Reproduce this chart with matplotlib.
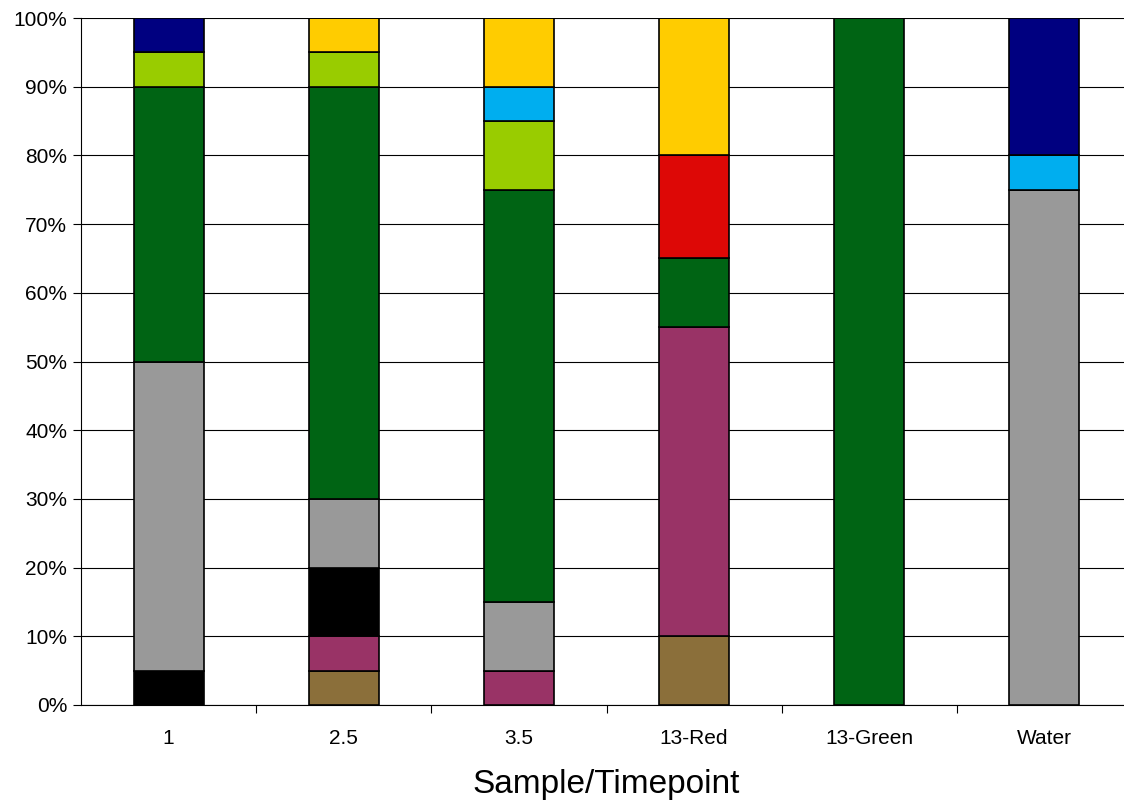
import numpy as np
import matplotlib
matplotlib.use("Agg")
import matplotlib.pyplot as plt
from matplotlib.ticker import PercentFormatter

plt.rcParams['font.family'] = ['Liberation Sans', 'DejaVu Sans']

# sample names along the x axis
samples = ['1', '2.5', '3.5', '13-Red', '13-Green', 'Water']

# percent of each sample, stacked bottom to top
brown = [0, 5, 0, 10, 0, 0]
purple = [0, 5, 5, 45, 0, 0]
black = [5, 10, 0, 0, 0, 0]
gray = [45, 10, 10, 0, 0, 75]
green = [40, 60, 60, 10, 100, 0]
yellowgreen = [5, 5, 10, 0, 0, 0]
lightblue = [0, 0, 5, 0, 0, 5]
red = [0, 0, 0, 15, 0, 0]
yellow = [0, 5, 10, 20, 0, 0]
navy = [5, 0, 0, 0, 0, 20]

series = [brown, purple, black, gray, green, yellowgreen, lightblue, red, yellow, navy]
colors = ['#8B6F3A', '#993366', '#000000', '#999999', '#006414',
          '#99CC00', '#00AEEF', '#DD0806', '#FFCC00', '#000080']

fig = plt.figure(figsize=(11.24, 8.02), dpi=100)
# axes runs a bit past the right edge, like the original
ax = fig.add_axes([81/1124, 1 - 705/802, 1051/1124, 687/802])

x = np.arange(len(samples))
bottom = np.zeros(len(samples))
for vals, col in zip(series, colors):
    vals = np.array(vals, dtype=float)
    ax.bar(x, vals, 0.4, bottom=bottom, color=col, edgecolor='black',
           linewidth=1.2, zorder=3)
    bottom += vals

ax.set_xlim(-0.5, len(samples) - 0.5)
ax.set_ylim(0, 100)
ax.set_yticks(np.arange(0, 101, 10))
ax.yaxis.set_major_formatter(PercentFormatter(decimals=0))
ax.yaxis.grid(True, color='black', linewidth=0.8, zorder=0)

# category labels in the middle, ticks at the boundaries
ax.set_xticks(x)
ax.set_xticklabels(samples)
ax.set_xticks(np.arange(0.5, len(samples) - 0.5, 1), minor=True)
ax.tick_params(axis='x', which='major', length=0, pad=17.5, labelsize=15)
ax.tick_params(axis='x', which='minor', length=6, width=0.8, color='black')
ax.tick_params(axis='y', length=6, width=0.8, labelsize=15, pad=4)

for s in ['top', 'right']:
    ax.spines[s].set_visible(False)
ax.spines['left'].set_linewidth(0.8)
ax.spines['bottom'].set_linewidth(0.8)

ax.set_xlabel('Sample/Timepoint', fontsize=24, labelpad=15)

fig.savefig('out.png', dpi=100)
